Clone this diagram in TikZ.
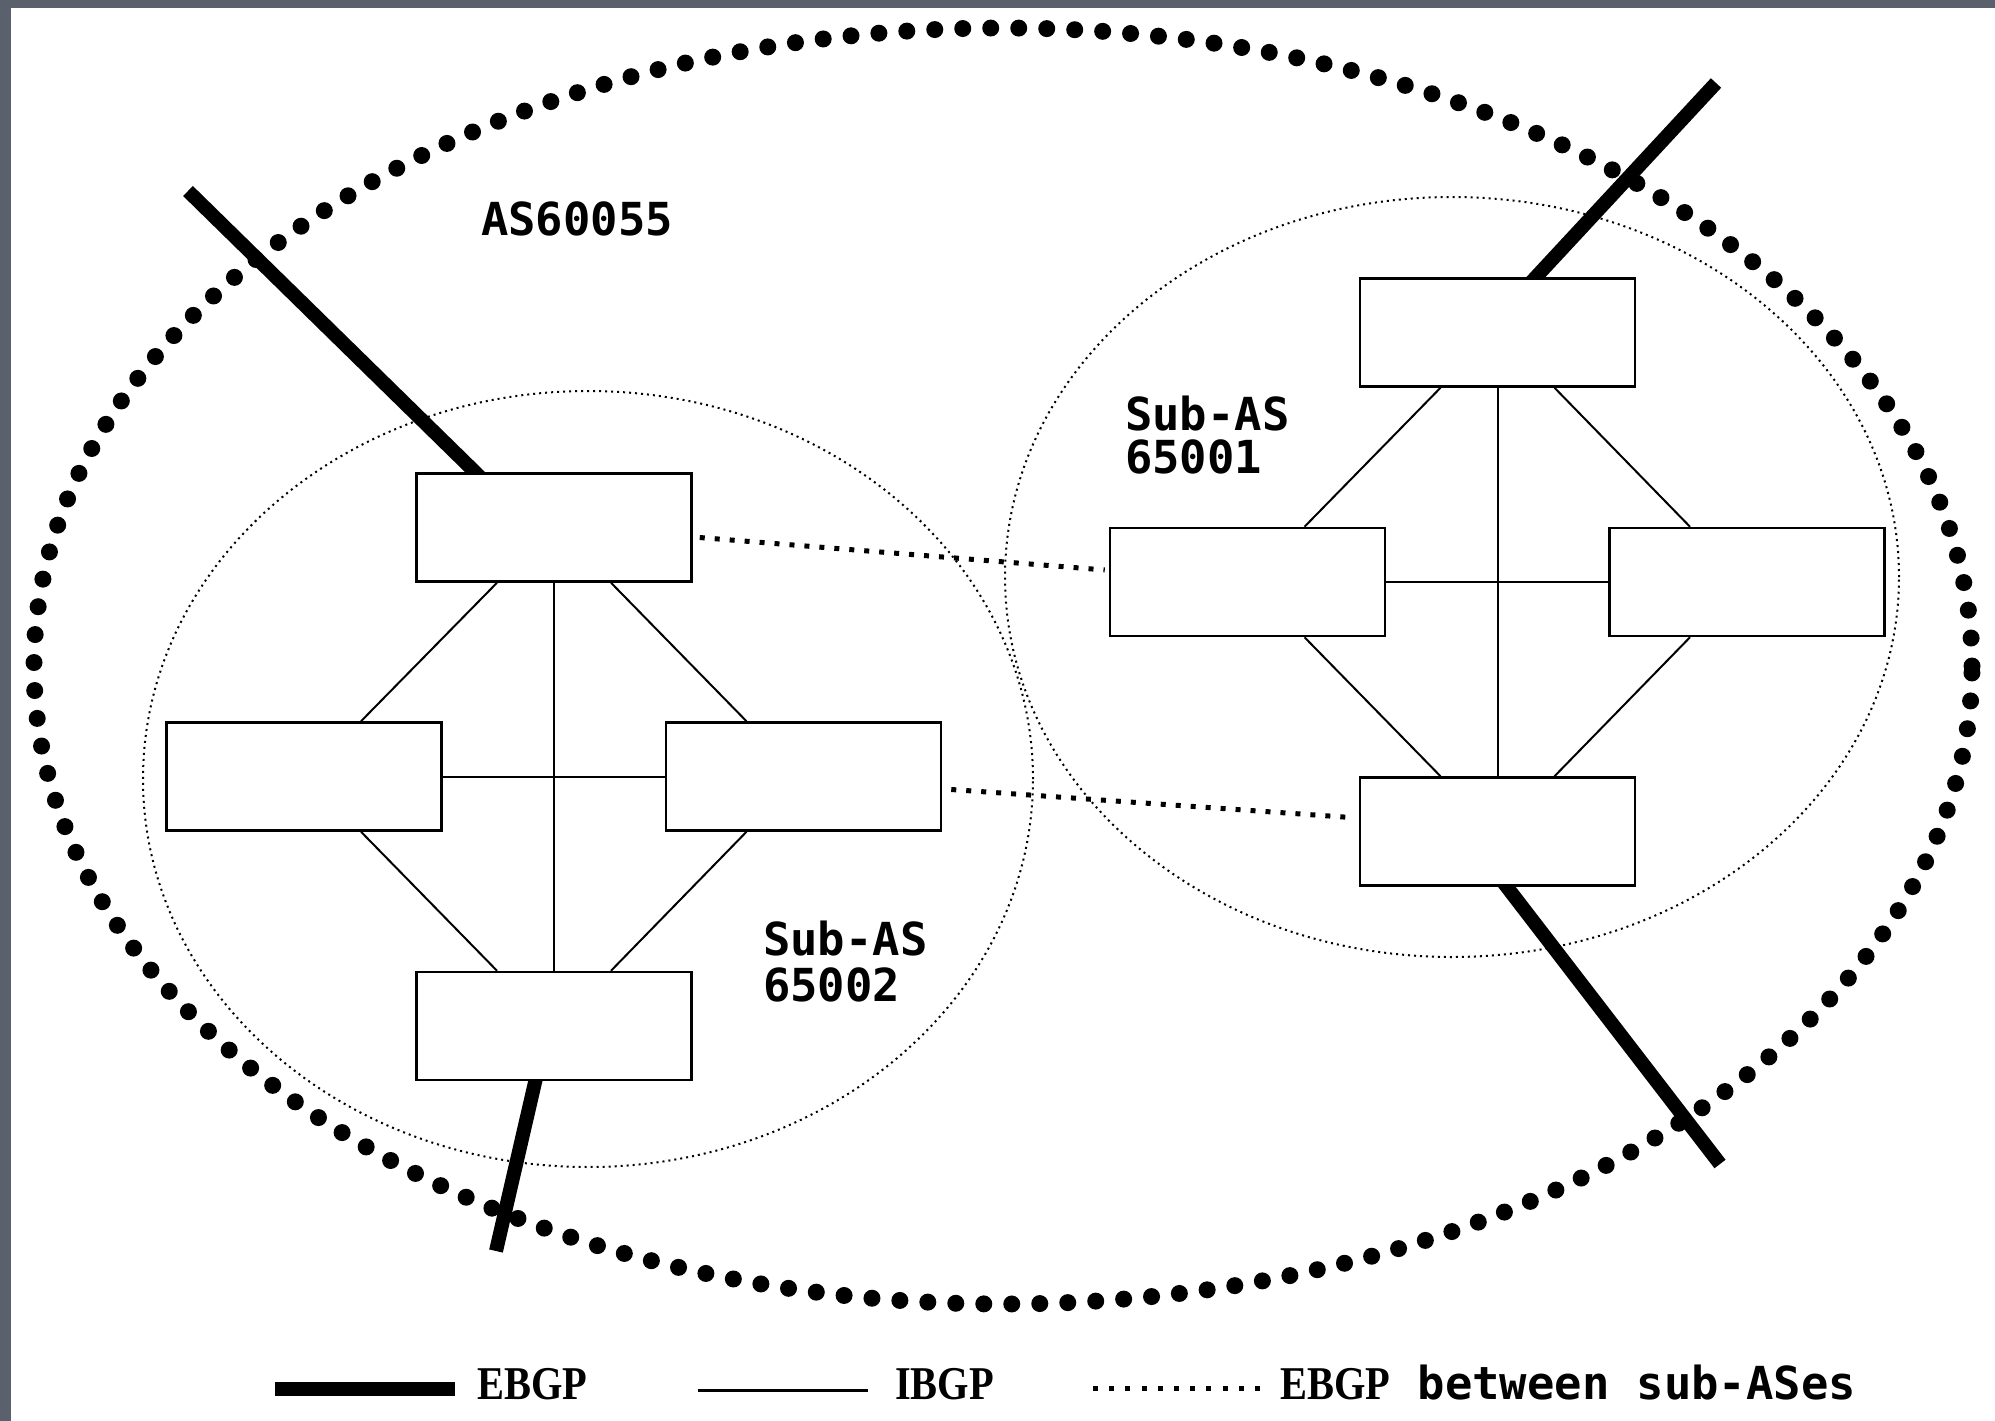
\documentclass[tikz,border=0pt]{standalone}
\usepackage{fontspec}
\usetikzlibrary{calc}
\newfontfamily\labmono{DejaVu Sans Mono}
\newfontfamily\legserif{Liberation Serif}
\newcommand\legword[1]{{\legserif\bfseries\fontsize{47}{47}\selectfont\scalebox{0.86}[1]{#1}}}
\definecolor{framegray}{RGB}{90,96,108}
\pgfdeclarelayer{canvas}
\pgfdeclarelayer{links}
\pgfsetlayers{canvas,links,main}

\begin{document}
\begin{tikzpicture}[x=1pt,y=-1pt,
  router/.style={draw,line width=2.5pt,fill=white,minimum width=275pt,minimum height=108pt,inner sep=0pt},
  ibgp/.style={line width=2pt},
  ebgp/.style={line width=14pt,shorten >=-8pt},
  subebgp/.style={line width=5pt,dash pattern=on 5pt off 10pt},
  subas/.style={line width=2pt,dash pattern=on 2pt off 4pt},
  confed/.style={line width=17pt,line cap=round,dash pattern=on 0pt off 28pt},
  monolab/.style={inner sep=0pt,anchor=base west,font=\labmono\bfseries\fontsize{45.5}{45}\selectfont},
  seriflab/.style={inner sep=0pt,anchor=base west}]

\useasboundingbox (0,0) rectangle (1995,1421);

% routers of sub-AS 65002
\node[router] (tl) at (554,527.5) {};
\node[router] (ll) at (304,776.5) {};
\node[router] (lr) at (803.5,776.5) {};
\node[router] (lb) at (554,1026) {};
% routers of sub-AS 65001
\node[router] (rt) at (1497.5,332.5) {};
\node[router] (rl) at (1247.5,582) {};
\node[router] (rr) at (1747,582) {};
\node[router] (rb) at (1497.5,831.5) {};

\begin{pgfonlayer}{canvas}
  \fill[white] (0,0) rectangle (1995,1421);
  % confederation boundary and the two sub-ASes
  \draw[confed] (1003,666) ellipse [x radius=969pt, y radius=638pt];
  \draw[subas] (588,779) ellipse [x radius=445pt, y radius=388pt];
  \draw[subas] (1452,577) ellipse [x radius=447pt, y radius=380pt];
\end{pgfonlayer}

\begin{pgfonlayer}{links}
  % full-mesh IBGP inside sub-AS 65002
  \draw[ibgp] (tl.south) -- (lb.north);
  \draw[ibgp] (ll.east) -- (lr.west);
  \draw[ibgp] ($(tl.south)+(-57,0)$) -- ($(ll.north)+(57,0)$);
  \draw[ibgp] ($(tl.south)+(57,0)$) -- ($(lr.north)+(-57,0)$);
  \draw[ibgp] ($(ll.south)+(57,0)$) -- ($(lb.north)+(-57,0)$);
  \draw[ibgp] ($(lr.south)+(-57,0)$) -- ($(lb.north)+(57,0)$);
  % full-mesh IBGP inside sub-AS 65001
  \draw[ibgp] (rt.south) -- (rb.north);
  \draw[ibgp] (rl.east) -- (rr.west);
  \draw[ibgp] ($(rt.south)+(-57,0)$) -- ($(rl.north)+(57,0)$);
  \draw[ibgp] ($(rt.south)+(57,0)$) -- ($(rr.north)+(-57,0)$);
  \draw[ibgp] ($(rl.south)+(57,0)$) -- ($(rb.north)+(-57,0)$);
  \draw[ibgp] ($(rr.south)+(-57,0)$) -- ($(rb.north)+(57,0)$);
  % external peers
  \coordinate (x1) at (188,191);
  \coordinate (x2) at (496,1251);
  \coordinate (x3) at (1716,83);
  \coordinate (x4) at (1720,1164);
  \draw[ebgp] (x1) -- ($(tl.north west)+(60,0)$);
  \draw[ebgp] (x2) -- ($(lb.south west)+(120,0)$);
  \draw[ebgp] (x3) -- ($(rt.north west)+(177,0)$);
  \draw[ebgp] (x4) -- ($(rb.south west)+(148,0)$);
  % EBGP sessions between the sub-ASes
  \draw[subebgp] ($(tl.east)+(7,10)$) -- ($(rl.west)+(-4,-12)$);
  \draw[subebgp] ($(lr.east)+(9,13)$) -- ($(rb.west)+(-8,-14)$);
\end{pgfonlayer}

% labels
\node[monolab] (asname) at (481,235) {AS60055};
\node[monolab] (sub1a) at (1125,430) {Sub-AS};
\node[monolab] (sub1b) at (1125,473) {65001};
\node[monolab] (sub2a) at (763,955) {Sub-AS};
\node[monolab] (sub2b) at (763,1001) {65002};

% legend
\coordinate (k1a) at (275,1389);
\coordinate (k1b) at (455,1389);
\draw[line width=14pt] (k1a) -- (k1b);
\node[seriflab] (k1t) at (477,1399) {\legword{EBGP}};
\coordinate (k2a) at (698,1390);
\coordinate (k2b) at (868,1390);
\draw[line width=3pt] (k2a) -- (k2b);
\node[seriflab] (k2t) at (895,1399) {\legword{IBGP}};
\coordinate (k3a) at (1093,1388);
\coordinate (k3b) at (1260,1388);
\draw[line width=5pt,dash pattern=on 5pt off 11.2pt] (k3a) -- (k3b);
\node[monolab] (k3t) at (1280,1399) {\legword{EBGP} between sub-ASes};

% frame
\fill[framegray] (0,0) rectangle (1995,8);
\fill[framegray] (0,0) rectangle (11,1421);
\end{tikzpicture}
\end{document}
